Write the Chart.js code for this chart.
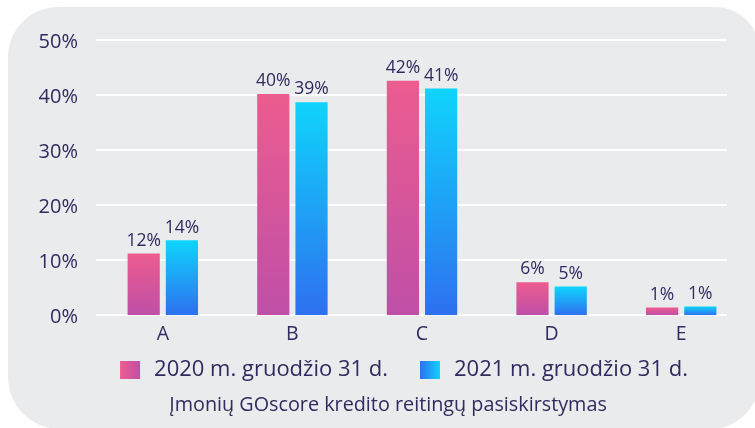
<!DOCTYPE html>
<html><head><meta charset="utf-8">
<script src="https://cdn.jsdelivr.net/npm/chart.js@4/dist/chart.umd.min.js"></script>
<style>html,body{margin:0;padding:0;background:#fff;}#wrap{width:755px;height:428px;position:relative;}</style>
</head><body><div id="wrap"><canvas id="c"></canvas></div>
<script>
const categories = ['A', 'B', 'C', 'D', 'E'];
const series2020 = [11.2, 40.2, 42.6, 6.0, 1.4];
const series2021 = [13.6, 38.7, 41.2, 5.2, 1.6];
const labels2020 = ['12%', '40%', '42%', '6%', '1%'];
const labels2021 = ['14%', '39%', '41%', '5%', '1%'];
const seriesNames = ['2020 m. gruodžio 31 d.', '2021 m. gruodžio 31 d.'];
const yTickValues = [0, 10, 20, 30, 40, 50];
const chartTitle = 'Įmonių GOscore kredito reitingų pasiskirstymas';

const NAVY = '#2e2b5f';
const FONT = "'Open Sans', 'Noto Sans', sans-serif";
const GRAD = [['#ec5c8f', '#bf4fa7'], ['#0fd4fc', '#2e70ef']];
const LEG_GRAD = [['#ee5c8e', '#c04fa6'], ['#2f6ff0', '#10d3fc']];
const LEG_BOX_W = 55;

function barGradient(ctx, di) {
  const chart = ctx.chart;
  const y = chart.scales && chart.scales.y;
  if (!y || !chart.chartArea || ctx.raw === undefined) return GRAD[di][0];
  const top = y.getPixelForValue(ctx.raw);
  const base = y.getPixelForValue(0);
  const g = chart.ctx.createLinearGradient(0, top, 0, base);
  g.addColorStop(0, GRAD[di][0]);
  g.addColorStop(1, GRAD[di][1]);
  return g;
}

const panelPlugin = {
  id: 'panel',
  beforeDraw(chart) {
    const c = chart.ctx;
    c.save();
    c.fillStyle = '#eaebed';
    c.beginPath();
    c.roundRect(8, 7, 752, 422, [50, 45, 50, 52]);
    c.fill();
    c.restore();
  }
};

const gridPlugin = {
  id: 'grid',
  beforeDatasetsDraw(chart) {
    const c = chart.ctx, y = chart.scales.y, a = chart.chartArea;
    c.save();
    c.strokeStyle = '#ffffff';
    c.lineWidth = 2;
    y.ticks.forEach(t => {
      const py = Math.round(y.getPixelForValue(t.value));
      c.beginPath();
      c.moveTo(a.left - 2, py);
      c.lineTo(a.right - 19, py);
      c.stroke();
    });
    c.restore();
  }
};

const valueLabelPlugin = {
  id: 'valueLabels',
  afterDatasetsDraw(chart) {
    const c = chart.ctx;
    const sets = [labels2020, labels2021];
    c.save();
    c.fillStyle = NAVY;
    c.font = "17.5px " + FONT;
    c.textAlign = 'center';
    c.textBaseline = 'bottom';
    chart.data.datasets.forEach((ds, di) => {
      chart.getDatasetMeta(di).data.forEach((bar, i) => {
        c.fillText(sets[di][i], bar.x, bar.y - 4);
      });
    });
    c.restore();
  }
};

const legendBoxPlugin = {
  id: 'legendBoxes',
  afterDraw(chart) {
    const lg = chart.legend;
    if (!lg || !lg.legendHitBoxes) return;
    const c = chart.ctx;
    lg.legendHitBoxes.forEach((hb, i) => {
      const x = hb.left + LEG_BOX_W - 23, cy = hb.top + hb.height / 2;
      const g = c.createLinearGradient(x, 0, x + 20, 0);
      g.addColorStop(0, LEG_GRAD[i][0]);
      g.addColorStop(1, LEG_GRAD[i][1]);
      c.fillStyle = g;
      c.fillRect(x, Math.round(cy - 9), 20, 18);
    });
  }
};

new Chart(document.getElementById('c'), {
  type: 'bar',
  data: {
    labels: categories,
    datasets: [
      { label: seriesNames[0], data: series2020, backgroundColor: ctx => barGradient(ctx, 0) },
      { label: seriesNames[1], data: series2021, backgroundColor: ctx => barGradient(ctx, 1) }
    ]
  },
  options: {
    responsive: true,
    maintainAspectRatio: false,
    animation: false,
    devicePixelRatio: 1,
    barPercentage: 0.842,
    categoryPercentage: 0.59,
    layout: { padding: { left: 30, right: 9, top: 40, bottom: 0 } },
    scales: {
      x: {
        grid: { display: false, drawTicks: false },
        border: { display: false },
        ticks: { color: NAVY, font: { family: FONT, size: 19.5 }, padding: 7 },
        afterFit(s) { s.height = 43.5; }
      },
      y: {
        min: 0, max: 50,
        afterBuildTicks(s) { s.ticks = yTickValues.map(v => ({ value: v })); },
        grid: { display: false, drawTicks: false },
        border: { display: false },
        ticks: { color: NAVY, font: { family: FONT, size: 20 }, padding: 20, labelOffset: 2, callback: v => v + '%' },
        afterFit(s) { s.width = 68; }
      }
    },
    plugins: {
      tooltip: { enabled: false },
      legend: {
        position: 'bottom',
        labels: {
          color: NAVY,
          font: { family: FONT, size: 22 },
          boxWidth: LEG_BOX_W, boxHeight: 18,
          padding: 0,
          generateLabels(chart) {
            return chart.data.datasets.map((ds, i) => ({
              text: ds.label, fillStyle: 'rgba(0,0,0,0)', strokeStyle: 'rgba(0,0,0,0)',
              lineWidth: 0, fontColor: NAVY, datasetIndex: i, hidden: false
            }));
          }
        }
      },
      title: {
        display: true,
        position: 'bottom',
        text: chartTitle,
        color: NAVY,
        font: { family: FONT, size: 19.8, weight: 'normal' },
        padding: { top: 3, bottom: 10.5 }
      }
    }
  },
  plugins: [panelPlugin, gridPlugin, valueLabelPlugin, legendBoxPlugin]
});
</script>
</body></html>
